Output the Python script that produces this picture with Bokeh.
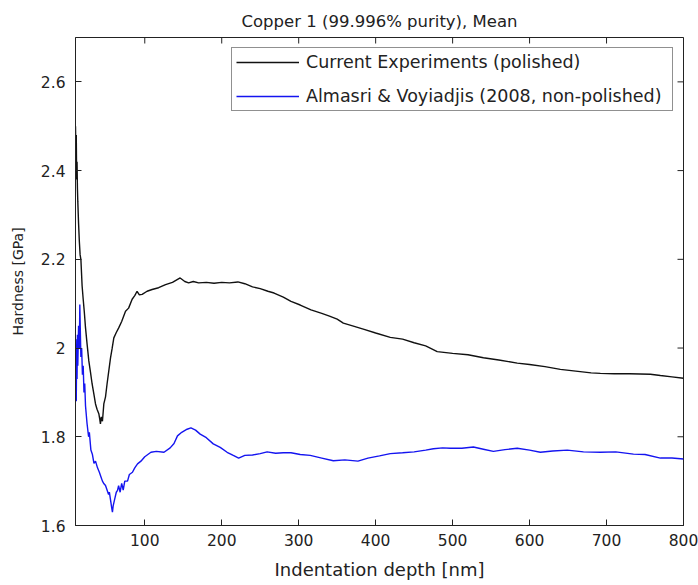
import math
from bokeh.plotting import figure
from bokeh.models import (FixedTicker, CustomJSTickFormatter, Range1d, Legend, LegendItem)
from bokeh.embed import file_html
from bokeh.resources import INLINE

# ---------------- data ----------------
black_x = [10, 10.5, 11, 11.5, 12, 12.5, 13, 14, 15, 16, 17, 18.6, 20, 21.5, 23, 25, 27.3, 29.5,
           31.6, 34, 36, 38, 40.3, 41.5, 42.4, 43.5, 45, 46.8, 49, 51, 53, 55.5, 57.5, 59.8, 63,
           66.3, 70, 75, 79, 83.6, 87, 90, 93, 96.6, 103, 109.5, 118, 127, 136, 146, 152, 157,
           163, 170, 180, 190, 200, 210, 221, 230, 240, 250, 260, 268, 280, 290, 302, 316, 330,
           340, 350, 358, 370, 385, 400, 419, 435, 450, 465, 480, 500, 520, 540, 560, 584, 600,
           620, 640, 660, 680, 692, 710, 730, 757, 770, 785, 800]
black_y = [2.50, 2.44, 2.48, 2.38, 2.42, 2.36, 2.33, 2.28, 2.24, 2.21, 2.20, 2.14, 2.11, 2.08,
           2.046, 2.01, 1.971, 1.945, 1.919, 1.895, 1.874, 1.862, 1.852, 1.84, 1.829, 1.845,
           1.835, 1.874, 1.89, 1.919, 1.945, 1.978, 1.998, 2.023, 2.035, 2.046, 2.06, 2.083,
           2.09, 2.11, 2.118, 2.128, 2.12, 2.121, 2.128, 2.132, 2.136, 2.143, 2.148, 2.158,
           2.15, 2.147, 2.15, 2.147, 2.148, 2.146, 2.148, 2.147, 2.149, 2.145, 2.138, 2.134,
           2.128, 2.124, 2.115, 2.105, 2.097, 2.086, 2.078, 2.072, 2.065, 2.056, 2.05, 2.042,
           2.034, 2.024, 2.02, 2.012, 2.005, 1.992, 1.988, 1.985, 1.978, 1.973, 1.966, 1.963,
           1.958, 1.952, 1.948, 1.944, 1.943, 1.942, 1.942, 1.941, 1.938, 1.935, 1.932]

blue_x = [10, 10.5, 11, 11.5, 12, 12.5, 13, 14, 15, 15.6, 16.5, 17, 18, 19, 20, 21, 22, 23, 25,
          27, 28, 30, 32, 34, 36, 38.6, 41, 43, 45, 47, 49, 51, 53, 54, 56, 57, 58, 59, 61, 63,
          64.6, 66, 68, 70, 72, 74, 77.6, 80, 84, 87, 90.6, 95, 100, 108, 115, 125, 133, 138,
          142.5, 148, 155, 160, 166, 172, 180, 189, 198, 207, 215, 222, 230, 240, 250, 259,
          270, 280, 290, 302, 315, 330, 345, 360, 377, 390, 405, 419, 435, 450, 465, 475, 487,
          497, 512, 527, 540, 553, 568, 584, 600, 614, 630, 649, 670, 692, 712, 735, 750, 770,
          785, 800]
blue_y = [1.95, 2.02, 1.88, 2.0, 1.93, 2.03, 1.96, 2.05, 2.0, 2.098, 2.02, 1.98, 2.0, 1.94, 1.96,
          1.9, 1.92, 1.87, 1.83, 1.80, 1.81, 1.77, 1.76, 1.74, 1.745, 1.73, 1.72, 1.71, 1.70,
          1.694, 1.69, 1.68, 1.67, 1.675, 1.652, 1.64, 1.63, 1.645, 1.66, 1.675, 1.679, 1.69,
          1.675, 1.695, 1.68, 1.70, 1.70, 1.715, 1.72, 1.73, 1.739, 1.745, 1.755, 1.765, 1.767,
          1.765, 1.775, 1.785, 1.802, 1.81, 1.817, 1.82, 1.815, 1.806, 1.798, 1.784, 1.776,
          1.765, 1.758, 1.752, 1.758, 1.759, 1.762, 1.766, 1.763, 1.764, 1.764, 1.76, 1.758,
          1.752, 1.746, 1.748, 1.745, 1.752, 1.757, 1.762, 1.764, 1.766, 1.770, 1.773, 1.775,
          1.774, 1.774, 1.777, 1.772, 1.767, 1.771, 1.774, 1.77, 1.765, 1.768, 1.77, 1.766,
          1.765, 1.766, 1.761, 1.76, 1.752, 1.752, 1.75]

x_ticks = [100, 200, 300, 400, 500, 600, 700, 800]
y_ticks = [1.6, 1.8, 2.0, 2.2, 2.4, 2.6]
x_lim = [10, 800]
y_lim = [1.6, 2.7]
series_names = ["Current Experiments (polished)", "Almasri & Voyiadjis (2008, non-polished)"]
title_text = "Copper 1 (99.996% purity), Mean"
x_label = "Indentation depth [nm]"
y_label = "Hardness [GPa]"

FONT = "DejaVu Sans"
AX = "#222222"

p = figure(width=698, height=585, output_backend="svg", toolbar_location=None,
           x_range=Range1d(*x_lim), y_range=Range1d(*y_lim),
           min_border_left=75, min_border_right=15, min_border_top=37, min_border_bottom=60,
           title=title_text)
p.title.align = "center"
p.title.vertical_align = "bottom"
p.title.text_font = FONT
p.title.text_font_size = "16.5px"
p.title.text_font_style = "normal"
p.title.text_color = AX
p.title.standoff = 14
p.grid.visible = False
p.outline_line_color = AX
p.background_fill_color = "white"
p.border_fill_color = "white"

r1 = p.line(black_x, black_y, line_color="#111111", line_width=1.4)
r2 = p.line(blue_x, blue_y, line_color="#1414f0", line_width=1.4)

# inward ticks on the top and right edges of the box (half of each dash is clipped)
p.scatter(x=x_ticks, y=[y_lim[1]] * len(x_ticks), marker="dash", angle=math.pi / 2,
          size=12, line_color=AX, line_width=1)
p.scatter(x=[x_lim[1]] * len(y_ticks), y=y_ticks, marker="dash",
          size=12, line_color=AX, line_width=1)

fmt = CustomJSTickFormatter(code="return (Math.round(tick*10)/10).toString();")

def style(ax):
    ax.axis_line_color = AX
    ax.major_tick_line_color = AX
    ax.major_tick_in = 6
    ax.major_tick_out = 0
    ax.minor_tick_in = 0
    ax.minor_tick_out = 0
    ax.major_label_text_font = FONT
    ax.major_label_text_color = AX
    ax.axis_label_text_font = FONT
    ax.axis_label_text_font_style = "normal"
    ax.axis_label_text_color = AX

xa = p.xaxis[0]
xa.ticker = FixedTicker(ticks=x_ticks)
style(xa)
xa.major_label_text_font_size = "15.5px"
xa.major_label_standoff = 8
xa.axis_label = x_label
xa.axis_label_text_font_size = "18px"
xa.axis_label_standoff = 10

ya = p.yaxis[0]
ya.ticker = FixedTicker(ticks=y_ticks)
ya.formatter = fmt
style(ya)
ya.major_label_text_font_size = "15.5px"
ya.major_label_standoff = 10
ya.axis_label = y_label
ya.axis_label_text_font_size = "14px"
ya.axis_label_standoff = 12

legend = Legend(items=[LegendItem(label=series_names[0], renderers=[r1]),
                       LegendItem(label=series_names[1], renderers=[r2])],
                location="top_right")
legend.label_text_font = FONT
legend.label_text_font_size = "17.5px"
legend.label_text_color = AX
legend.glyph_width = 63
legend.label_standoff = 7
legend.label_width = 362
legend.padding = 4
legend.spacing = 14
legend.margin = 10
legend.border_line_color = AX
legend.border_line_width = 1
legend.background_fill_alpha = 1
p.add_layout(legend, "center")

open("out.html", "w").write(file_html(p, INLINE))
